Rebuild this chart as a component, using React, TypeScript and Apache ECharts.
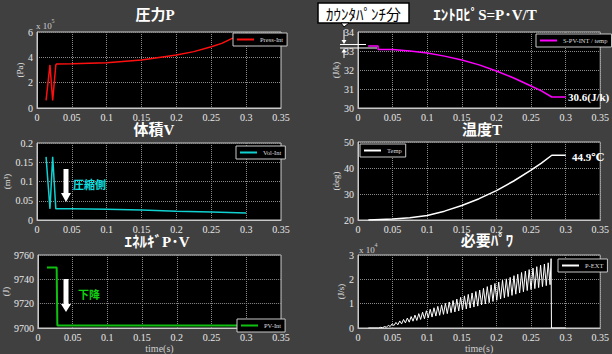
import React, { useEffect, useRef } from "react";
import * as echarts from "echarts";

// ---- data (t [s], value) ----
const pressure: number[][] = [
  [0.013, 0.6], [0.0186, 3.4], [0.0225, 0.6], [0.027, 3.4], [0.028, 3.47], [0.05, 3.49],
  [0.1, 3.58], [0.15, 3.79], [0.2, 4.18], [0.225, 4.45], [0.25, 4.84], [0.265, 5.1],
  [0.28, 5.5], [0.3, 5.5],
];
const entropy: number[][] = [
  [0.0147, 33.26], [0.029, 33.26], [0.029, 33.08], [0.05, 33.08], [0.075, 33.0], [0.1, 32.89],
  [0.125, 32.73], [0.15, 32.53], [0.175, 32.27], [0.2, 31.95], [0.225, 31.58], [0.25, 31.16],
  [0.265, 30.9], [0.28, 30.58], [0.3, 30.58],
];
const volume: number[][] = [
  [0.013, 0.164], [0.0186, 0.029], [0.0225, 0.164], [0.027, 0.029], [0.05, 0.029],
  [0.1, 0.028], [0.15, 0.026], [0.2, 0.023], [0.25, 0.0205], [0.3, 0.018],
];
const temperature: number[][] = [
  [0.015, 20.0], [0.05, 20.4], [0.075, 20.9], [0.1, 21.7], [0.125, 23.4], [0.15, 25.6],
  [0.175, 28.2], [0.2, 31.3], [0.225, 35.0], [0.25, 39.2], [0.265, 41.9], [0.28, 44.9], [0.3, 44.9],
];
const energy: number[][] = [
  [0.013, 9749.7], [0.027, 9749.7], [0.028, 9702], [0.3, 9702],
];
const power: number[][] = [
  [0.015, 0], [0.030, 0], [0.0328, 0.03], [0.0355, 0.01], [0.0383, 0.06], [0.0410, 0.03],
  [0.0438, 0.11], [0.0465, 0.06], [0.0493, 0.17], [0.0520, 0.10], [0.0548, 0.23], [0.0575, 0.13],
  [0.0603, 0.29], [0.0630, 0.17], [0.0658, 0.35], [0.0685, 0.21], [0.0713, 0.41], [0.0740, 0.24],
  [0.0768, 0.47], [0.0795, 0.28], [0.0823, 0.53], [0.0850, 0.31], [0.0878, 0.59], [0.0905, 0.35],
  [0.0933, 0.65], [0.0960, 0.38], [0.0988, 0.71], [0.1015, 0.42], [0.1043, 0.77], [0.1070, 0.45],
  [0.1098, 0.83], [0.1125, 0.49], [0.1153, 0.89], [0.1180, 0.52], [0.1208, 0.95], [0.1235, 0.56],
  [0.1263, 1.01], [0.1290, 0.59], [0.1318, 1.07], [0.1345, 0.63], [0.1373, 1.13], [0.1400, 0.66],
  [0.1428, 1.19], [0.1455, 0.70], [0.1483, 1.26], [0.1510, 0.74], [0.1538, 1.32], [0.1565, 0.78],
  [0.1593, 1.38], [0.1620, 0.82], [0.1648, 1.44], [0.1675, 0.86], [0.1703, 1.50], [0.1730, 0.90],
  [0.1758, 1.56], [0.1785, 0.95], [0.1813, 1.63], [0.1840, 0.99], [0.1868, 1.70], [0.1895, 1.04],
  [0.1923, 1.77], [0.1950, 1.09], [0.1978, 1.83], [0.2005, 1.14], [0.2033, 1.89], [0.2060, 1.19],
  [0.2088, 1.96], [0.2115, 1.24], [0.2143, 2.02], [0.2170, 1.29], [0.2198, 2.08], [0.2225, 1.34],
  [0.2253, 2.15], [0.2280, 1.39], [0.2308, 2.21], [0.2335, 1.44], [0.2363, 2.28], [0.2390, 1.49],
  [0.2418, 2.34], [0.2445, 1.54], [0.2473, 2.40], [0.2500, 1.58], [0.2528, 2.46], [0.2555, 1.62],
  [0.2583, 2.52], [0.2610, 1.66], [0.2638, 2.58], [0.2665, 1.70], [0.2693, 2.63], [0.2720, 1.74],
  [0.2748, 2.68], [0.2775, 1.78], [0.2790, 2.85], [0.2795, 0], [0.300, 0],
];

const titles = ["圧力P", "ｴﾝﾄﾛﾋﾟS=P･V/T", "体積V", "温度T", "ｴﾈﾙｷﾞP･V", "必要ﾊﾟﾜ"];
const legendNames = ["Press-Int", "S-PV-INT / temp", "Vol-Int", "Temp", "PV-Int", "P-EXT"];
const yNames = ["(Pa)", "(J/k)", "(m\u00B3)", "(deg)", "(J)", "(J/s)"];
const yRanges = [
  [0, 6, 2], [30, 34, 1], [0, 0.2, 0.05], [20, 50, 10], [9700, 9760, 20], [0, 3, 1],
];
const colors = ["#ff1010", "#ff00ff", "#10d0d0", "#ffffff", "#10c010", "#ffffff"];
const xTicks = [0, 0.35, 0.05];

const SERIF = '"Liberation Serif", "DejaVu Serif", serif';
const TITLEF = '"Liberation Serif", "Noto Sans CJK JP", serif';

export default function App() {
  const ref = useRef<HTMLDivElement>(null);
  useEffect(() => {
    document.body.style.margin = "0";
    const chart = echarts.init(ref.current!, null, { renderer: "svg" });
    const grids = [
      { left: 37, top: 32, width: 244, height: 76 },
      { left: 358, top: 32, width: 245, height: 76 },
      { left: 37, top: 143, width: 244, height: 77 },
      { left: 358, top: 142, width: 245, height: 78 },
      { left: 37, top: 255, width: 244, height: 76 },
      { left: 358, top: 255, width: 245, height: 76 },
    ];
    const datasets = [pressure, entropy, volume, temperature, energy, power];
    const widths = [1.5, 1.5, 1.5, 1.5, 2, 1];
    const legendPos = [
      { left: 233, top: 33 }, { left: 536, top: 34 }, { left: 236, top: 146 },
      { left: 360, top: 144 }, { left: 237, top: 319 }, { left: 558, top: 259 },
    ];
    const titlePos = [[155, 15], [485, 15], [154, 130], [482, 130], [157, 242], [487, 241]];

    const graphic: any[] = [];
    titles.forEach((t, i) => {
      graphic.push({
        type: "text", x: titlePos[i][0], y: titlePos[i][1], z: 100,
        style: { text: t, fill: "#ffffff", fontSize: 15, fontWeight: "bold", fontFamily: TITLEF, align: "center", verticalAlign: "middle" },
      });
    });
    // exponent labels
    const expo = (x: number, y: number, e: string) => {
      graphic.push({ type: "text", x, y, z: 100, style: { text: "x 10", fill: "#cfcfcf", fontSize: 9, fontFamily: SERIF, verticalAlign: "middle" } });
      graphic.push({ type: "text", x: x + 15.5, y: y - 5, z: 100, style: { text: e, fill: "#cfcfcf", fontSize: 6, fontFamily: SERIF, verticalAlign: "middle" } });
    };
    expo(36, 26, "5");
    expo(359, 250, "4");
    // arrows
    const arrow = (cx: number, top: number, headTop: number, tip: number) => {
      graphic.push({ type: "rect", z: 100, shape: { x: cx - 2.5, y: top, width: 5, height: headTop - top }, style: { fill: "#ffffff" } });
      graphic.push({ type: "polygon", z: 100, shape: { points: [[cx - 5, headTop], [cx + 5, headTop], [cx, tip]] }, style: { fill: "#ffffff" } });
    };
    arrow(66, 169, 193, 202);
    arrow(66, 279, 304, 312);
    graphic.push({ type: "text", x: 73, y: 184, z: 100, style: { text: "圧縮側", fill: "#10e0e0", fontSize: 11, fontWeight: "bold", fontFamily: "Noto Sans CJK JP", verticalAlign: "middle" } });
    graphic.push({ type: "text", x: 78, y: 294, z: 100, style: { text: "下降", fill: "#10d010", fontSize: 11, fontWeight: "bold", fontFamily: "Noto Sans CJK JP", verticalAlign: "middle" } });
    // value labels
    graphic.push({ type: "text", x: 568, y: 97, z: 100, style: { text: "30.6(J/k)", fill: "#ffffff", fontSize: 11, fontWeight: "bold", fontFamily: SERIF, verticalAlign: "middle" } });
    graphic.push({ type: "text", x: 572, y: 157, z: 100, style: { text: "44.9℃", fill: "#ffffff", fontSize: 11, fontWeight: "bold", fontFamily: SERIF, verticalAlign: "middle" } });
    // counter punch box
    graphic.push({ type: "rect", z: 100, shape: { x: 318, y: 3, width: 91, height: 20 }, style: { fill: "#ffffff", stroke: "#000000", lineWidth: 1.5 } });
    graphic.push({ type: "polygon", z: 101, shape: { points: [[341, 23], [349, 23], [344, 27]] }, style: { fill: "#ffffff", stroke: "#000", lineWidth: 1 } });
    graphic.push({ type: "text", x: 363.5, y: 13.5, z: 101, style: { text: "ｶｳﾝﾀﾊﾟﾝﾁ分", fill: "#000000", fontSize: 15, fontFamily: "Noto Sans CJK JP", align: "center", verticalAlign: "middle" } });
    // bracket marks on entropy panel
    graphic.push({ type: "line", z: 100, shape: { x1: 340, y1: 44.5, x2: 366, y2: 44.5 }, style: { stroke: "#ffffff", lineWidth: 1 } });
    graphic.push({ type: "line", z: 100, shape: { x1: 340, y1: 48, x2: 377, y2: 48 }, style: { stroke: "#ffffff", lineWidth: 1 } });
    graphic.push({ type: "line", z: 100, shape: { x1: 344, y1: 30, x2: 344, y2: 42 }, style: { stroke: "#ffffff", lineWidth: 1 } });
    graphic.push({ type: "polygon", z: 100, shape: { points: [[341.5, 40], [346.5, 40], [344, 44]] }, style: { fill: "#ffffff" } });
    graphic.push({ type: "line", z: 100, shape: { x1: 344, y1: 51, x2: 344, y2: 58 }, style: { stroke: "#ffffff", lineWidth: 1 } });
    graphic.push({ type: "polygon", z: 100, shape: { points: [[341.5, 52.5], [346.5, 52.5], [344, 48.5]] }, style: { fill: "#ffffff" } });

    const axisLabel = { color: "#e8e8e8", fontSize: 10, fontFamily: SERIF, formatter: (v: number) => String(v) };
    const split = { show: true, lineStyle: { color: "#8a8a8a", type: "dotted", width: 1 } };

    chart.setOption({
      animation: false,
      backgroundColor: "#404040",
      grid: grids.map((g) => ({ ...g, show: true, backgroundColor: "#000000", borderColor: "#c8c8c8", borderWidth: 1 })),
      xAxis: grids.map((_, i) => ({
        type: "value", gridIndex: i, min: xTicks[0], max: xTicks[1], interval: xTicks[2],
        axisLine: { show: true, lineStyle: { color: "#c8c8c8" } }, axisTick: { show: false },
        axisLabel: { ...axisLabel, margin: 4 }, splitLine: split,
        name: i >= 4 ? "time(s)" : "", nameLocation: "middle", nameGap: 15,
        nameTextStyle: { color: "#cfcfcf", fontSize: 10, fontFamily: SERIF },
      })),
      yAxis: grids.map((_, i) => ({
        type: "value", gridIndex: i, min: yRanges[i][0], max: yRanges[i][1], interval: yRanges[i][2],
        axisLine: { show: true, lineStyle: { color: "#c8c8c8" } }, axisTick: { show: false },
        axisLabel: { ...axisLabel, margin: 4 }, splitLine: split,
        name: yNames[i], nameLocation: "middle", nameRotate: 90, nameGap: 11,
        nameTextStyle: { color: "#e0e0e0", fontSize: 9, fontFamily: SERIF },
      })),
      legend: legendNames.map((n, i) => ({
        data: [n], ...legendPos[i], orient: "horizontal", padding: [3, 4], itemGap: 2,
        backgroundColor: "#000000", borderColor: "#c8c8c8", borderWidth: 1, borderRadius: 0,
        icon: "rect", itemWidth: 17, itemHeight: 2,
        textStyle: { color: "#dddddd", fontSize: 6.5, fontFamily: SERIF, padding: [0, 0, 0, 1] },
      })),
      graphic,
      series: datasets.map((d, i) => ({
        type: "line", name: legendNames[i], xAxisIndex: i, yAxisIndex: i, data: d,
        showSymbol: false, color: colors[i], lineStyle: { color: colors[i], width: widths[i] },
      })),
    });
    return () => chart.dispose();
  }, []);
  return <div ref={ref} style={{ width: 612, height: 354 }} />;
}
